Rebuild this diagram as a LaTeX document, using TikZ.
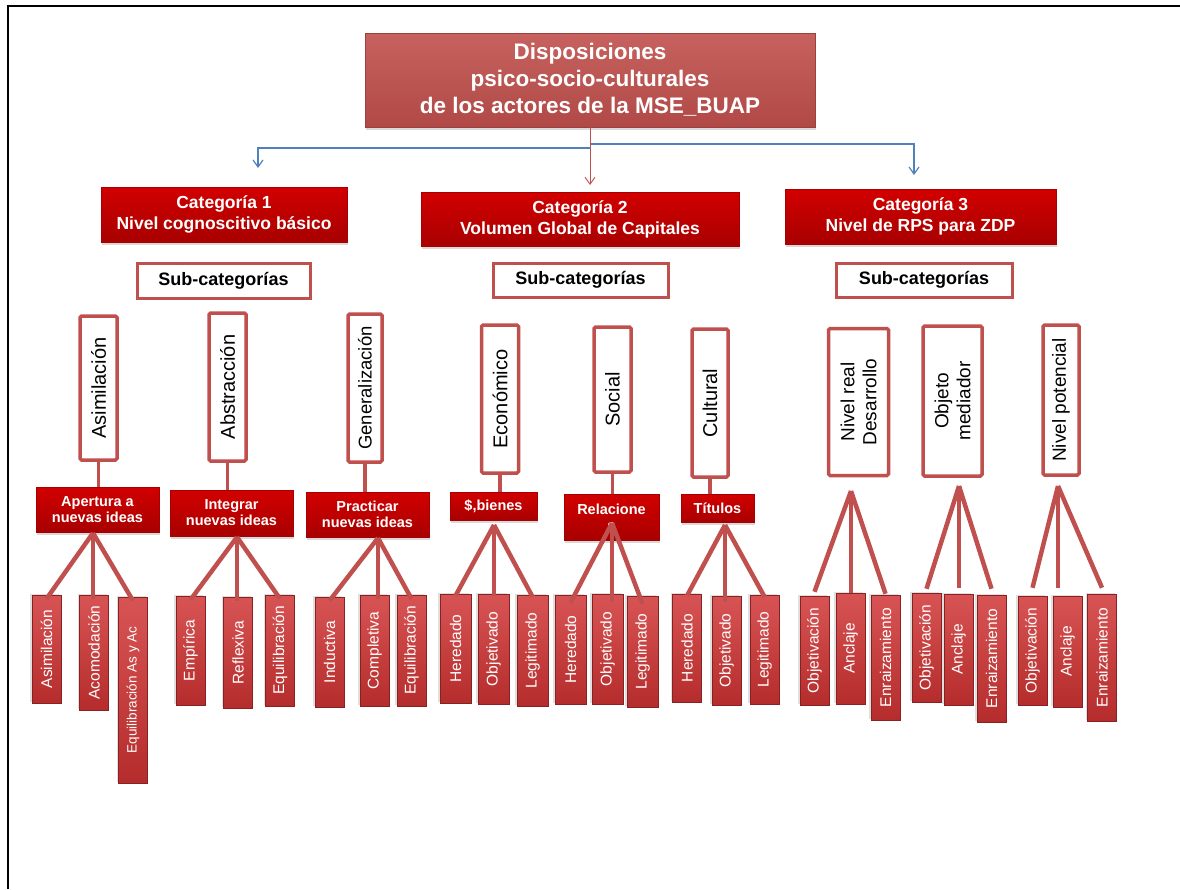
\documentclass[tikz,border=0pt]{standalone}
\usepackage{fontspec}
\setmainfont{Liberation Sans}
\usepackage{xcolor}
\usetikzlibrary{arrows.meta,shadows,positioning}

\definecolor{tituloRojo}{HTML}{C0504D}
\definecolor{catRojo}{HTML}{D20000}
\definecolor{catOscuro}{HTML}{A80000}
\definecolor{bordeRojo}{HTML}{C0504D}
\definecolor{hojaRojo}{HTML}{B52C2C}
\definecolor{hojaClaro}{HTML}{D85454}
\definecolor{azulLinea}{HTML}{4F81BD}

\tikzstyle{titulo}=[inner sep=0pt, align=center, text=white, top color=tituloRojo!90!white, bottom color=tituloRojo!92!black, draw=tituloRojo!80!black, line width=0.6pt, font=\bfseries\fontsize{22.5}{27}\selectfont, drop shadow={opacity=0.3,shadow xshift=1pt,shadow yshift=-3pt}]
\tikzstyle{categoria}=[inner sep=0pt, align=center, text=white, top color=catRojo, bottom color=catOscuro, draw=catOscuro, line width=0.5pt, font=\bfseries\fontsize{17.5}{21}\selectfont, drop shadow={opacity=0.3,shadow xshift=1pt,shadow yshift=-3pt}]
\tikzstyle{subcat}=[inner sep=0pt, fill=white, draw=bordeRojo, line width=3pt, font=\bfseries\fontsize{18}{20}\selectfont]
\tikzstyle{vcaja}=[inner sep=0pt, align=center, rotate=90, fill=white, draw=bordeRojo, line width=3.5pt, rounded corners=1.5pt, font=\fontsize{20}{22}\selectfont]
\tikzstyle{medio}=[inner sep=0pt, align=center, text=white, top color=catRojo, bottom color=catOscuro, draw=catOscuro, line width=0.5pt, font=\bfseries\fontsize{14.5}{16}\selectfont, drop shadow={opacity=0.3,shadow xshift=1pt,shadow yshift=-3pt}]
\tikzstyle{hoja}=[inner sep=0pt, rotate=90, text=white, top color=hojaClaro, bottom color=hojaRojo, draw=hojaRojo!75!black, line width=0.5pt, minimum height=29pt, font=\fontsize{15.5}{17}\selectfont, drop shadow={opacity=0.25,shadow xshift=-2pt,shadow yshift=1pt}]
\tikzstyle{tallo}=[draw=bordeRojo, line width=3.5pt]
\tikzstyle{abanico}=[draw=bordeRojo, line width=4.5pt]
\tikzstyle{flechaAzul}=[draw=azulLinea, line width=1.2pt, -{Straight Barb[length=7pt,width=10pt]}]
\tikzstyle{flechaRoja}=[draw=bordeRojo, line width=0.9pt, -{Straight Barb[length=7pt,width=10pt]}]

\begin{document}
\begin{tikzpicture}[x=1pt,y=-1pt]

\useasboundingbox (0,0) rectangle (1180,889);
\draw[line width=2.5pt] (8,889) -- (8,6) -- (1180,6);

% titulo
\node[titulo, minimum width=450pt, minimum height=94pt] (titulo) at (590,80) {Disposiciones\\psico-socio-culturales\\de los actores de la MSE\_BUAP};

% categorias
\node[categoria, minimum width=246pt, minimum height=55pt] (cat1) at (224,214.5) {Categoría 1\\Nivel cognoscitivo básico};
\node[categoria, minimum width=318pt, minimum height=54pt] (cat2) at (580,219) {Categoría 2\\Volumen Global de Capitales};
\node[categoria, minimum width=271pt, minimum height=55pt] (cat3) at (920.5,216.5) {Categoría 3\\Nivel de RPS para ZDP};

\coordinate (c1in) at (258,168);
\coordinate (c2in) at (590,185);
\coordinate (c3in) at (914,175);
\coordinate (bi) at (590,148);
\coordinate (bd) at (590,144);
\draw[flechaAzul] (bi) -| (c1in);
\draw[flechaAzul] (bd) -| (c3in);
\draw[flechaRoja] (titulo.south) -- (c2in);

% sub-categorias
\node[subcat, minimum width=173pt, minimum height=35pt] (sub1) at (223.5,280.5) {Sub-categorías};
\node[subcat, minimum width=175pt, minimum height=34pt] (sub2) at (580.5,280) {Sub-categorías};
\node[subcat, minimum width=176pt, minimum height=34pt] (sub3) at (924,280) {Sub-categorías};

% cajas verticales
\node[vcaja, minimum width=144pt, minimum height=37pt] (asim) at (98.5,388) {Asimilación};
\node[vcaja, minimum width=148pt, minimum height=37pt] (abst) at (227.5,387) {Abstracción};
\node[vcaja, minimum width=148pt, minimum height=34pt, font=\fontsize{18.5}{22}\selectfont] (gene) at (365,388) {Generalización};
\node[vcaja, minimum width=148pt, minimum height=37pt] (econ) at (500,399) {Económico};
\node[vcaja, minimum width=145pt, minimum height=37pt] (soci) at (612.5,399.5) {Social};
\node[vcaja, minimum width=148pt, minimum height=36pt] (cult) at (710,403) {Cultural};
\node[vcaja, minimum width=147pt, minimum height=60pt, font=\fontsize{19}{22}\selectfont] (nreal) at (858.5,402) {Nivel real\\Desarrollo};
\node[vcaja, minimum width=150pt, minimum height=59pt, font=\fontsize{19}{22}\selectfont] (obje) at (952.5,401) {Objeto\\mediador};
\node[vcaja, minimum width=150pt, minimum height=36pt, font=\fontsize{19}{22}\selectfont] (npot) at (1061,400) {Nivel potencial};

% cajas intermedias
\node[medio, minimum width=123pt, minimum height=45pt] (aper) at (97.5,509.5) {Apertura a\\nuevas ideas};
\node[medio, minimum width=123pt, minimum height=46pt] (inte) at (231.5,513) {Integrar\\nuevas ideas};
\node[medio, minimum width=123pt, minimum height=45pt] (prac) at (367.5,514.5) {Practicar\\nuevas ideas};
\node[medio, minimum width=87pt, minimum height=28pt] (bien) at (493.5,506) {\$,bienes};
\node[medio, minimum width=95pt, minimum height=46pt] (rela) at (611.5,517) {Relacione\\s};
\node[medio, minimum width=73pt, minimum height=28pt] (titu) at (717.5,508) {Títulos};

\draw[tallo] (asim.west) -- (asim.west |- aper.north);
\draw[tallo] (abst.west) -- (abst.west |- inte.north);
\draw[tallo] (gene.west) -- (gene.west |- prac.north);
\draw[tallo] (econ.west) -- (econ.west |- bien.north);
\draw[tallo] (soci.west) -- (soci.west |- rela.north);
\draw[tallo] (cult.west) -- (cult.west |- titu.north);

% hojas categoria 1
\node[hoja, minimum width=108pt] (a1) at (46.5,649) {Asimilación};
\node[hoja, minimum width=115pt] (a2) at (94,652.5) {Acomodación};
\node[hoja, minimum width=186pt, font=\fontsize{13.5}{15}\selectfont] (a3) at (133,690) {Equilibración As y Ac};
\node[hoja, minimum width=109pt] (i1) at (190.5,650.5) {Empírica};
\node[hoja, minimum width=111pt] (i2) at (238,652.5) {Reflexiva};
\node[hoja, minimum width=111pt] (i3) at (280,650.5) {Equilibración};
\node[hoja, minimum width=110pt] (p1) at (329.5,652) {Inductiva};
\node[hoja, minimum width=111pt] (p2) at (374.5,650.5) {Completiva};
\node[hoja, minimum width=111pt] (p3) at (411.5,650.5) {Equilibración};

% hojas categoria 2
\node[hoja, minimum width=109pt, minimum height=31pt] (b1) at (455.5,648.5) {Heredado};
\node[hoja, minimum width=110pt, minimum height=31pt] (b2) at (493.5,649) {Objetivado};
\node[hoja, minimum width=111pt, minimum height=31pt] (b3) at (532.5,650.5) {Legitimado};
\node[hoja, minimum width=109pt, minimum height=31pt] (r1) at (570.5,649.5) {Heredado};
\node[hoja, minimum width=110pt, minimum height=31pt] (r2) at (607.5,649) {Objetivado};
\node[hoja, minimum width=111pt, minimum height=31pt] (r3) at (642.5,651.5) {Legitimado};
\node[hoja, minimum width=108pt] (t1) at (687,648) {Heredado};
\node[hoja, minimum width=109pt] (t2) at (726.5,650.5) {Objetivado};
\node[hoja, minimum width=109pt] (t3) at (764.5,649.5) {Legitimado};

% hojas categoria 3
\node[hoja, minimum width=109pt] (n1) at (814.5,650.5) {Objetivación};
\node[hoja, minimum width=111pt] (n2) at (850.5,648.5) {Anclaje};
\node[hoja, minimum width=125pt] (n3) at (885.5,657.5) {Enraizamiento};
\node[hoja, minimum width=109pt] (o1) at (926.5,647.5) {Objetivación};
\node[hoja, minimum width=111pt] (o2) at (958.5,649.5) {Anclaje};
\node[hoja, minimum width=127pt] (o3) at (991.5,658.5) {Enraizamiento};
\node[hoja, minimum width=109pt] (v1) at (1032.5,650.5) {Objetivación};
\node[hoja, minimum width=111pt] (v2) at (1067.5,651.5) {Anclaje};
\node[hoja, minimum width=127pt] (v3) at (1102,657.5) {Enraizamiento};

% abanicos
\coordinate (fa) at (93,533);
\coordinate (fi) at (237,537);
\coordinate (fp) at (378,538);
\coordinate (fb) at (494,525);
\coordinate (fr) at (612,523);
\coordinate (ft) at (725,525);
\coordinate (fn) at (851,491);
\coordinate (fo) at (959,486);
\coordinate (fv) at (1058,486);

\draw[abanico] (fa) -- ([yshift=-4pt]a1.east);
\draw[abanico] (fa) -- ([yshift=-4pt]fa |- a2.east);
\draw[abanico] (fa) -- ([yshift=-4pt]a3.east);
\draw[abanico] (fi) -- ([yshift=-4pt]i1.east);
\draw[abanico] (fi) -- ([yshift=-4pt]fi |- i2.east);
\draw[abanico] (fi) -- ([yshift=-4pt]i3.east);
\draw[abanico] (fp) -- ([yshift=-4pt]p1.east);
\draw[abanico] (fp) -- ([yshift=-4pt]fp |- p2.east);
\draw[abanico] (fp) -- ([yshift=-4pt]p3.east);
\draw[abanico] (fb) -- ([yshift=-2pt]b1.east);
\draw[abanico] (fb) -- ([yshift=-2pt]fb |- b2.east);
\draw[abanico] (fb) -- ([yshift=-2pt]b3.east);
\draw[abanico] (fr) -- ([yshift=-8pt]r1.east);
\draw[abanico] (fr) -- ([yshift=-8pt]fr |- r2.east);
\draw[abanico] (fr) -- ([yshift=-8pt]r3.east);
\draw[abanico] (ft) -- ([yshift=-2pt]t1.east);
\draw[abanico] (ft) -- ([yshift=-6pt]ft |- t2.east);
\draw[abanico] (ft) -- ([yshift=-2pt]t3.east);
\draw[abanico] (fn) -- ([yshift=4pt]n1.east);
\draw[abanico] (fn) -- (fn |- n2.east);
\draw[abanico] (fn) -- ([yshift=1pt]n3.east);
\draw[abanico] (fo) -- ([yshift=4pt]o1.east);
\draw[abanico] (fo) -- ([yshift=6pt]fo |- o2.east);
\draw[abanico] (fo) -- ([yshift=6pt]o3.east);
\draw[abanico] (fv) -- ([yshift=8pt]v1.east);
\draw[abanico] (fv) -- ([yshift=8pt]fv |- v2.east);
\draw[abanico] (fv) -- ([yshift=6pt]v3.east);

\end{tikzpicture}
\end{document}
